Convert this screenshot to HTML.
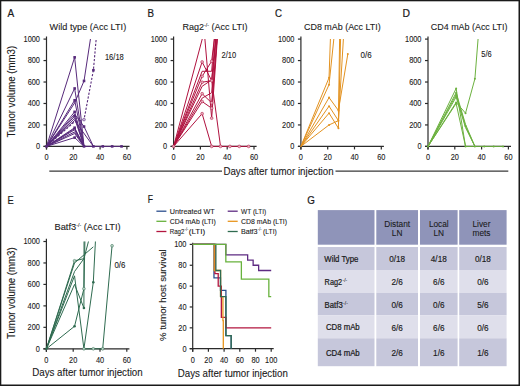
<!DOCTYPE html><html><head><meta charset="utf-8"><style>html,body{margin:0;padding:0;background:#fff;overflow:hidden}svg{display:block}text{font-family:"Liberation Sans",sans-serif;stroke:#1a1a1a;stroke-width:0.1}</style></head><body>
<svg width="520" height="386" viewBox="0 0 520 386">
<rect x="0" y="0" width="520" height="386" fill="#fff"/>
<text x="7.5" y="16.5" font-size="11.4" textLength="6.7" lengthAdjust="spacingAndGlyphs" style="stroke-width:0.22" fill="#1a1a1a">A</text>
<text x="147.6" y="16.6" font-size="11.4" textLength="6.5" lengthAdjust="spacingAndGlyphs" style="stroke-width:0.22" fill="#1a1a1a">B</text>
<text x="274.9" y="16.6" font-size="11.4" textLength="7.0" lengthAdjust="spacingAndGlyphs" style="stroke-width:0.22" fill="#1a1a1a">C</text>
<text x="402.5" y="16.6" font-size="11.4" textLength="7.5" lengthAdjust="spacingAndGlyphs" style="stroke-width:0.22" fill="#1a1a1a">D</text>
<text x="7.6" y="203.6" font-size="11.4" textLength="6.2" lengthAdjust="spacingAndGlyphs" style="stroke-width:0.22" fill="#1a1a1a">E</text>
<text x="147.8" y="203.3" font-size="11.4" textLength="5.2" lengthAdjust="spacingAndGlyphs" style="stroke-width:0.22" fill="#1a1a1a">F</text>
<text x="307.3" y="203.6" font-size="11.4" textLength="7.6" lengthAdjust="spacingAndGlyphs" style="stroke-width:0.22" fill="#1a1a1a">G</text>
<text x="49.6" y="30.4" font-size="9.8" textLength="76.6" lengthAdjust="spacingAndGlyphs" fill="#1a1a1a">Wild type (Acc LTI)</text>
<text x="182.5" y="30.4" font-size="9.8" textLength="65" lengthAdjust="spacingAndGlyphs" fill="#1a1a1a">Rag2<tspan font-size="5.6" dy="-3.8">-/-</tspan><tspan dy="3.8"> (Acc LTI)</tspan></text>
<text x="304" y="30.4" font-size="9.8" textLength="76.7" lengthAdjust="spacingAndGlyphs" fill="#1a1a1a">CD8 mAb (Acc LTI)</text>
<text x="430.8" y="30.4" font-size="9.8" textLength="76.7" lengthAdjust="spacingAndGlyphs" fill="#1a1a1a">CD4 mAb (Acc LTI)</text>
<text x="54.5" y="230.3" font-size="9.8" textLength="66.2" lengthAdjust="spacingAndGlyphs" fill="#1a1a1a">Batf3<tspan font-size="5.6" dy="-3.8">-/-</tspan><tspan dy="3.8"> (Acc LTI)</tspan></text>
<text transform="translate(14.6 91.7) rotate(-90)" x="0" y="0" font-size="10.4" text-anchor="middle" textLength="91.6" lengthAdjust="spacingAndGlyphs" fill="#1a1a1a">Tumor volume (mm3)</text>
<text transform="translate(14.6 293.2) rotate(-90)" x="0" y="0" font-size="10.4" text-anchor="middle" textLength="91.6" lengthAdjust="spacingAndGlyphs" fill="#1a1a1a">Tumor volume (mm3)</text>
<text transform="translate(165.9 295.2) rotate(-90)" x="0" y="0" font-size="9.4" text-anchor="middle" textLength="91.7" lengthAdjust="spacingAndGlyphs" fill="#1a1a1a">% tumor host survival</text>
<path d="M49.3 171.1H222M335.5 171.1H508.3" stroke="#3a3a3a" stroke-width="1.3"/>
<text x="223.4" y="174.6" font-size="10.0" textLength="110.2" lengthAdjust="spacingAndGlyphs" fill="#1a1a1a">Days after tumor injection</text>
<text x="32.2" y="376.3" font-size="10.0" textLength="110.5" lengthAdjust="spacingAndGlyphs" fill="#1a1a1a">Days after tumor injection</text>
<text x="177.8" y="376.7" font-size="10.0" textLength="110" lengthAdjust="spacingAndGlyphs" fill="#1a1a1a">Days after tumor injection</text>
<g stroke="#2b2b2b" stroke-width="1.2" fill="none">
<path d="M46.5 36.400000000000006V149.4M43.5 146.4H129.5"/>
<path d="M43.5 146.40H46.5"/>
<path d="M43.5 124.94H46.5"/>
<path d="M43.5 103.48H46.5"/>
<path d="M43.5 82.02H46.5"/>
<path d="M43.5 60.56H46.5"/>
<path d="M43.5 39.10H46.5"/>
<path d="M46.50 146.4V149.4"/>
<path d="M73.30 146.4V149.4"/>
<path d="M100.10 146.4V149.4"/>
<path d="M126.90 146.4V149.4"/>
</g>
<text x="40.0" y="149.30" font-size="8.2" text-anchor="end" textLength="4.11" lengthAdjust="spacingAndGlyphs" fill="#1a1a1a">0</text>
<text x="40.0" y="127.84" font-size="8.2" text-anchor="end" textLength="12.33" lengthAdjust="spacingAndGlyphs" fill="#1a1a1a">200</text>
<text x="40.0" y="106.38" font-size="8.2" text-anchor="end" textLength="12.33" lengthAdjust="spacingAndGlyphs" fill="#1a1a1a">400</text>
<text x="40.0" y="84.92" font-size="8.2" text-anchor="end" textLength="12.33" lengthAdjust="spacingAndGlyphs" fill="#1a1a1a">600</text>
<text x="40.0" y="63.46" font-size="8.2" text-anchor="end" textLength="12.33" lengthAdjust="spacingAndGlyphs" fill="#1a1a1a">800</text>
<text x="40.0" y="42.00" font-size="8.2" text-anchor="end" textLength="16.44" lengthAdjust="spacingAndGlyphs" fill="#1a1a1a">1000</text>
<text x="46.50" y="160.30" font-size="8.2" text-anchor="middle" textLength="4.11" lengthAdjust="spacingAndGlyphs" fill="#1a1a1a">0</text>
<text x="73.30" y="160.30" font-size="8.2" text-anchor="middle" textLength="8.22" lengthAdjust="spacingAndGlyphs" fill="#1a1a1a">20</text>
<text x="100.10" y="160.30" font-size="8.2" text-anchor="middle" textLength="8.22" lengthAdjust="spacingAndGlyphs" fill="#1a1a1a">40</text>
<text x="126.90" y="160.30" font-size="8.2" text-anchor="middle" textLength="8.22" lengthAdjust="spacingAndGlyphs" fill="#1a1a1a">60</text>
<clipPath id="ca"><rect x="44.5" y="39.10000000000001" width="90" height="112"/></clipPath>
<g clip-path="url(#ca)" fill="none" stroke="#572a7b" stroke-width="1.0" stroke-linejoin="round">
<polyline points="46.50,146.40 74.64,57.34 84.02,146.40"/>
<polyline points="46.50,146.40 74.64,88.46 84.02,146.40"/>
<polyline points="46.50,146.40 74.64,102.94 84.02,80.95 93.40,19.79"/>
<polyline points="46.50,146.40 74.64,100.26 84.02,146.40"/>
<polyline points="46.50,146.40 74.64,111.85 84.02,146.40"/>
<polyline points="46.50,146.40 74.64,114.21 84.02,126.55 93.40,146.40"/>
<polyline points="46.50,146.40 74.64,116.14 84.02,146.40"/>
<polyline points="46.50,146.40 74.64,118.29 84.02,146.40"/>
<polyline points="46.50,146.40 74.64,120.43 93.40,146.40"/>
<polyline points="46.50,146.40 74.64,127.73 84.02,146.40"/>
<polyline points="46.50,146.40 74.64,128.70 84.02,146.40"/>
<polyline points="46.50,146.40 74.64,129.77 84.02,146.40"/>
<polyline points="46.50,146.40 74.64,131.91 84.02,146.40"/>
<polyline points="46.50,146.40 74.64,133.52 84.02,146.40"/>
<polyline points="46.50,146.40 74.64,137.60 84.02,146.40"/>
<polyline points="84.02,146.40 121.54,146.40"/>
<polyline points="46.50,146.40 74.64,121.72 84.02,119.58 93.40,70.22 98.09,17.64" stroke-dasharray="2.2 1.6" stroke-width="1.1"/>
</g>
<g fill="#572a7b">
<rect x="73.34" y="56.04" width="2.6" height="2.6"/>
<rect x="73.34" y="87.16" width="2.6" height="2.6"/>
<rect x="73.34" y="98.96" width="2.6" height="2.6"/>
<rect x="73.34" y="110.55" width="2.6" height="2.6"/>
<rect x="73.34" y="114.84" width="2.6" height="2.6"/>
<rect x="73.34" y="126.43" width="2.6" height="2.6"/>
<rect x="73.34" y="136.30" width="2.6" height="2.6"/>
<rect x="82.72" y="79.65" width="2.6" height="2.6"/>
<rect x="82.72" y="125.25" width="2.6" height="2.6"/>
<rect x="45.20" y="145.10" width="2.6" height="2.6"/>
<rect x="82.72" y="145.10" width="2.6" height="2.6"/>
<rect x="92.10" y="145.10" width="2.6" height="2.6"/>
<rect x="101.48" y="145.10" width="2.6" height="2.6"/>
<rect x="110.86" y="145.10" width="2.6" height="2.6"/>
<rect x="120.24" y="145.10" width="2.6" height="2.6"/>
<rect x="92.10" y="68.92" width="2.6" height="2.6"/>
</g>
<circle cx="84.02" cy="119.58" r="1.4" fill="#c9b6da" stroke="#572a7b" stroke-width="0.5"/>
<text x="104.9" y="59.5" font-size="8.3" textLength="18.9" lengthAdjust="spacingAndGlyphs" fill="#1a1a1a">16/18</text>
<g stroke="#2b2b2b" stroke-width="1.2" fill="none">
<path d="M173.6 36.400000000000006V149.4M170.6 146.4H256.6"/>
<path d="M170.6 146.40H173.6"/>
<path d="M170.6 124.94H173.6"/>
<path d="M170.6 103.48H173.6"/>
<path d="M170.6 82.02H173.6"/>
<path d="M170.6 60.56H173.6"/>
<path d="M170.6 39.10H173.6"/>
<path d="M173.60 146.4V149.4"/>
<path d="M200.40 146.4V149.4"/>
<path d="M227.20 146.4V149.4"/>
<path d="M254.00 146.4V149.4"/>
</g>
<text x="167.1" y="149.30" font-size="8.2" text-anchor="end" textLength="4.11" lengthAdjust="spacingAndGlyphs" fill="#1a1a1a">0</text>
<text x="167.1" y="127.84" font-size="8.2" text-anchor="end" textLength="12.33" lengthAdjust="spacingAndGlyphs" fill="#1a1a1a">200</text>
<text x="167.1" y="106.38" font-size="8.2" text-anchor="end" textLength="12.33" lengthAdjust="spacingAndGlyphs" fill="#1a1a1a">400</text>
<text x="167.1" y="84.92" font-size="8.2" text-anchor="end" textLength="12.33" lengthAdjust="spacingAndGlyphs" fill="#1a1a1a">600</text>
<text x="167.1" y="63.46" font-size="8.2" text-anchor="end" textLength="12.33" lengthAdjust="spacingAndGlyphs" fill="#1a1a1a">800</text>
<text x="167.1" y="42.00" font-size="8.2" text-anchor="end" textLength="16.44" lengthAdjust="spacingAndGlyphs" fill="#1a1a1a">1000</text>
<text x="173.60" y="160.30" font-size="8.2" text-anchor="middle" textLength="4.11" lengthAdjust="spacingAndGlyphs" fill="#1a1a1a">0</text>
<text x="200.40" y="160.30" font-size="8.2" text-anchor="middle" textLength="8.22" lengthAdjust="spacingAndGlyphs" fill="#1a1a1a">20</text>
<text x="227.20" y="160.30" font-size="8.2" text-anchor="middle" textLength="8.22" lengthAdjust="spacingAndGlyphs" fill="#1a1a1a">40</text>
<text x="254.00" y="160.30" font-size="8.2" text-anchor="middle" textLength="8.22" lengthAdjust="spacingAndGlyphs" fill="#1a1a1a">60</text>
<clipPath id="cb"><rect x="171.6" y="39.10000000000001" width="90" height="112"/></clipPath>
<g clip-path="url(#cb)" fill="none" stroke="#b0123f" stroke-width="1.0" stroke-linejoin="round">
<polyline points="173.60,146.40 205.09,28.37"/>
<polyline points="202.14,6.91 211.66,118.18 218.89,17.64"/>
<polyline points="173.60,146.40 202.14,61.95 211.66,80.63 217.55,17.64"/>
<polyline points="173.60,146.40 202.14,76.33 211.66,61.20 216.88,17.64"/>
<polyline points="173.60,146.40 202.14,82.23 211.66,80.63 218.22,17.64"/>
<polyline points="173.60,146.40 202.14,93.72 211.66,102.84 218.89,17.64"/>
<polyline points="173.60,146.40 202.14,101.55 211.66,108.20 218.62,17.64"/>
<polyline points="173.60,146.40 202.14,113.67 211.66,146.40 248.64,146.40"/>
<polyline points="173.60,146.40 202.14,86.31 211.66,79.87 220.50,146.40"/>
<polyline points="173.60,146.40 202.14,98.12 211.66,92.75 217.55,17.64"/>
<polyline points="173.60,146.40 202.14,71.29 211.66,71.29 216.21,17.64"/>
</g>
<g fill="#b0123f">
</g>
<circle cx="202.14" cy="61.95" r="1.4" fill="#e7aabb" stroke="#b0123f" stroke-width="0.5"/>
<circle cx="202.14" cy="76.33" r="1.4" fill="#e7aabb" stroke="#b0123f" stroke-width="0.5"/>
<circle cx="202.14" cy="82.23" r="1.4" fill="#e7aabb" stroke="#b0123f" stroke-width="0.5"/>
<circle cx="202.14" cy="93.72" r="1.4" fill="#e7aabb" stroke="#b0123f" stroke-width="0.5"/>
<circle cx="202.14" cy="101.55" r="1.4" fill="#e7aabb" stroke="#b0123f" stroke-width="0.5"/>
<circle cx="202.14" cy="113.67" r="1.4" fill="#e7aabb" stroke="#b0123f" stroke-width="0.5"/>
<circle cx="211.66" cy="61.20" r="1.4" fill="#e7aabb" stroke="#b0123f" stroke-width="0.5"/>
<circle cx="211.66" cy="80.63" r="1.4" fill="#e7aabb" stroke="#b0123f" stroke-width="0.5"/>
<circle cx="211.66" cy="102.84" r="1.4" fill="#e7aabb" stroke="#b0123f" stroke-width="0.5"/>
<circle cx="211.66" cy="108.20" r="1.4" fill="#e7aabb" stroke="#b0123f" stroke-width="0.5"/>
<circle cx="211.66" cy="118.18" r="1.4" fill="#e7aabb" stroke="#b0123f" stroke-width="0.5"/>
<circle cx="173.60" cy="146.40" r="1.4" fill="#e7aabb" stroke="#b0123f" stroke-width="0.5"/>
<circle cx="211.66" cy="146.40" r="1.4" fill="#e7aabb" stroke="#b0123f" stroke-width="0.5"/>
<circle cx="220.50" cy="146.40" r="1.4" fill="#e7aabb" stroke="#b0123f" stroke-width="0.5"/>
<circle cx="229.88" cy="146.40" r="1.4" fill="#e7aabb" stroke="#b0123f" stroke-width="0.5"/>
<circle cx="239.26" cy="146.40" r="1.4" fill="#e7aabb" stroke="#b0123f" stroke-width="0.5"/>
<circle cx="248.64" cy="146.40" r="1.4" fill="#e7aabb" stroke="#b0123f" stroke-width="0.5"/>
<text x="221.6" y="58.4" font-size="8.3" textLength="14.6" lengthAdjust="spacingAndGlyphs" fill="#1a1a1a">2/10</text>
<g stroke="#2b2b2b" stroke-width="1.2" fill="none">
<path d="M300.9 36.400000000000006V149.4M297.9 146.4H383.9"/>
<path d="M297.9 146.40H300.9"/>
<path d="M297.9 124.94H300.9"/>
<path d="M297.9 103.48H300.9"/>
<path d="M297.9 82.02H300.9"/>
<path d="M297.9 60.56H300.9"/>
<path d="M297.9 39.10H300.9"/>
<path d="M300.90 146.4V149.4"/>
<path d="M327.70 146.4V149.4"/>
<path d="M354.50 146.4V149.4"/>
<path d="M381.30 146.4V149.4"/>
</g>
<text x="294.4" y="149.30" font-size="8.2" text-anchor="end" textLength="4.11" lengthAdjust="spacingAndGlyphs" fill="#1a1a1a">0</text>
<text x="294.4" y="127.84" font-size="8.2" text-anchor="end" textLength="12.33" lengthAdjust="spacingAndGlyphs" fill="#1a1a1a">200</text>
<text x="294.4" y="106.38" font-size="8.2" text-anchor="end" textLength="12.33" lengthAdjust="spacingAndGlyphs" fill="#1a1a1a">400</text>
<text x="294.4" y="84.92" font-size="8.2" text-anchor="end" textLength="12.33" lengthAdjust="spacingAndGlyphs" fill="#1a1a1a">600</text>
<text x="294.4" y="63.46" font-size="8.2" text-anchor="end" textLength="12.33" lengthAdjust="spacingAndGlyphs" fill="#1a1a1a">800</text>
<text x="294.4" y="42.00" font-size="8.2" text-anchor="end" textLength="16.44" lengthAdjust="spacingAndGlyphs" fill="#1a1a1a">1000</text>
<text x="300.90" y="160.30" font-size="8.2" text-anchor="middle" textLength="4.11" lengthAdjust="spacingAndGlyphs" fill="#1a1a1a">0</text>
<text x="327.70" y="160.30" font-size="8.2" text-anchor="middle" textLength="8.22" lengthAdjust="spacingAndGlyphs" fill="#1a1a1a">20</text>
<text x="354.50" y="160.30" font-size="8.2" text-anchor="middle" textLength="8.22" lengthAdjust="spacingAndGlyphs" fill="#1a1a1a">40</text>
<text x="381.30" y="160.30" font-size="8.2" text-anchor="middle" textLength="8.22" lengthAdjust="spacingAndGlyphs" fill="#1a1a1a">60</text>
<clipPath id="cc"><rect x="298.9" y="39.10000000000001" width="90" height="112"/></clipPath>
<g clip-path="url(#cc)" fill="none" stroke="#e39220" stroke-width="1.0" stroke-linejoin="round">
<polyline points="300.90,146.40 329.04,77.73 330.78,28.37"/>
<polyline points="300.90,146.40 329.04,84.70 334.94,28.37"/>
<polyline points="300.90,146.40 329.04,97.58 338.42,110.45 347.80,54.12"/>
<polyline points="300.90,146.40 329.04,106.16 338.42,120.65 339.76,28.37"/>
<polyline points="300.90,146.40 329.04,113.14 338.42,128.16 340.83,28.37"/>
<polyline points="300.90,146.40 329.04,124.94 338.42,120.65 344.05,28.37"/>
</g>
<g fill="#e39220">
<circle cx="329.04" cy="77.73" r="1.0"/>
<circle cx="329.04" cy="84.70" r="1.0"/>
<circle cx="329.04" cy="97.58" r="1.0"/>
<circle cx="329.04" cy="106.16" r="1.0"/>
<circle cx="329.04" cy="113.14" r="1.0"/>
<circle cx="329.04" cy="124.94" r="1.0"/>
<circle cx="338.42" cy="110.45" r="1.0"/>
<circle cx="338.42" cy="120.65" r="1.0"/>
<circle cx="338.42" cy="128.16" r="1.0"/>
<circle cx="347.80" cy="54.12" r="1.0"/>
</g>
<text x="360.5" y="58.4" font-size="8.3" textLength="11.1" lengthAdjust="spacingAndGlyphs" fill="#1a1a1a">0/6</text>
<g stroke="#2b2b2b" stroke-width="1.2" fill="none">
<path d="M428 36.400000000000006V149.4M425 146.4H511"/>
<path d="M425 146.40H428"/>
<path d="M425 124.94H428"/>
<path d="M425 103.48H428"/>
<path d="M425 82.02H428"/>
<path d="M425 60.56H428"/>
<path d="M425 39.10H428"/>
<path d="M428.00 146.4V149.4"/>
<path d="M454.80 146.4V149.4"/>
<path d="M481.60 146.4V149.4"/>
<path d="M508.40 146.4V149.4"/>
</g>
<text x="421.5" y="149.30" font-size="8.2" text-anchor="end" textLength="4.11" lengthAdjust="spacingAndGlyphs" fill="#1a1a1a">0</text>
<text x="421.5" y="127.84" font-size="8.2" text-anchor="end" textLength="12.33" lengthAdjust="spacingAndGlyphs" fill="#1a1a1a">200</text>
<text x="421.5" y="106.38" font-size="8.2" text-anchor="end" textLength="12.33" lengthAdjust="spacingAndGlyphs" fill="#1a1a1a">400</text>
<text x="421.5" y="84.92" font-size="8.2" text-anchor="end" textLength="12.33" lengthAdjust="spacingAndGlyphs" fill="#1a1a1a">600</text>
<text x="421.5" y="63.46" font-size="8.2" text-anchor="end" textLength="12.33" lengthAdjust="spacingAndGlyphs" fill="#1a1a1a">800</text>
<text x="421.5" y="42.00" font-size="8.2" text-anchor="end" textLength="16.44" lengthAdjust="spacingAndGlyphs" fill="#1a1a1a">1000</text>
<text x="428.00" y="160.30" font-size="8.2" text-anchor="middle" textLength="4.11" lengthAdjust="spacingAndGlyphs" fill="#1a1a1a">0</text>
<text x="454.80" y="160.30" font-size="8.2" text-anchor="middle" textLength="8.22" lengthAdjust="spacingAndGlyphs" fill="#1a1a1a">20</text>
<text x="481.60" y="160.30" font-size="8.2" text-anchor="middle" textLength="8.22" lengthAdjust="spacingAndGlyphs" fill="#1a1a1a">40</text>
<text x="508.40" y="160.30" font-size="8.2" text-anchor="middle" textLength="8.22" lengthAdjust="spacingAndGlyphs" fill="#1a1a1a">60</text>
<clipPath id="cd"><rect x="426" y="39.10000000000001" width="90" height="112"/></clipPath>
<g clip-path="url(#cd)" fill="none" stroke="#6cb13f" stroke-width="1.0" stroke-linejoin="round">
<polyline points="428.00,146.40 456.14,88.46 465.52,146.40"/>
<polyline points="428.00,146.40 456.14,92.75 465.52,124.40 474.90,146.40"/>
<polyline points="428.00,146.40 456.14,94.90 465.52,126.01 474.90,146.40"/>
<polyline points="428.00,146.40 456.14,97.04 465.52,127.62 474.90,146.40"/>
<polyline points="428.00,146.40 456.14,102.41 465.52,113.14 474.90,78.80 478.92,28.37"/>
<polyline points="428.00,146.40 456.14,103.48 465.52,146.40"/>
<polyline points="465.52,146.40 503.04,146.40"/>
</g>
<g fill="#6cb13f">
<circle cx="456.14" cy="88.46" r="1.0"/>
<circle cx="456.14" cy="92.75" r="1.0"/>
<circle cx="456.14" cy="94.90" r="1.0"/>
<circle cx="456.14" cy="97.04" r="1.0"/>
<circle cx="456.14" cy="102.41" r="1.0"/>
<circle cx="456.14" cy="103.48" r="1.0"/>
<circle cx="465.52" cy="113.14" r="1.0"/>
<circle cx="465.52" cy="126.01" r="1.0"/>
<circle cx="474.90" cy="78.80" r="1.0"/>
<circle cx="428.00" cy="146.40" r="1.0"/>
<circle cx="465.52" cy="146.40" r="1.0"/>
<circle cx="474.90" cy="146.40" r="1.0"/>
<circle cx="484.28" cy="146.40" r="1.0"/>
<circle cx="493.66" cy="146.40" r="1.0"/>
<circle cx="503.04" cy="146.40" r="1.0"/>
</g>
<text x="481.3" y="57.4" font-size="8.3" textLength="10.4" lengthAdjust="spacingAndGlyphs" fill="#1a1a1a">5/6</text>
<g stroke="#2b2b2b" stroke-width="1.2" fill="none">
<path d="M46.4 238.8V351.8M43.4 348.8H129.4"/>
<path d="M43.4 348.80H46.4"/>
<path d="M43.4 327.34H46.4"/>
<path d="M43.4 305.88H46.4"/>
<path d="M43.4 284.42H46.4"/>
<path d="M43.4 262.96H46.4"/>
<path d="M43.4 241.50H46.4"/>
<path d="M46.40 348.8V351.8"/>
<path d="M73.20 348.8V351.8"/>
<path d="M100.00 348.8V351.8"/>
<path d="M126.80 348.8V351.8"/>
</g>
<text x="39.9" y="351.70" font-size="8.2" text-anchor="end" textLength="4.11" lengthAdjust="spacingAndGlyphs" fill="#1a1a1a">0</text>
<text x="39.9" y="330.24" font-size="8.2" text-anchor="end" textLength="12.33" lengthAdjust="spacingAndGlyphs" fill="#1a1a1a">200</text>
<text x="39.9" y="308.78" font-size="8.2" text-anchor="end" textLength="12.33" lengthAdjust="spacingAndGlyphs" fill="#1a1a1a">400</text>
<text x="39.9" y="287.32" font-size="8.2" text-anchor="end" textLength="12.33" lengthAdjust="spacingAndGlyphs" fill="#1a1a1a">600</text>
<text x="39.9" y="265.86" font-size="8.2" text-anchor="end" textLength="12.33" lengthAdjust="spacingAndGlyphs" fill="#1a1a1a">800</text>
<text x="39.9" y="244.40" font-size="8.2" text-anchor="end" textLength="16.44" lengthAdjust="spacingAndGlyphs" fill="#1a1a1a">1000</text>
<text x="46.40" y="362.70" font-size="8.2" text-anchor="middle" textLength="4.11" lengthAdjust="spacingAndGlyphs" fill="#1a1a1a">0</text>
<text x="73.20" y="362.70" font-size="8.2" text-anchor="middle" textLength="8.22" lengthAdjust="spacingAndGlyphs" fill="#1a1a1a">20</text>
<text x="100.00" y="362.70" font-size="8.2" text-anchor="middle" textLength="8.22" lengthAdjust="spacingAndGlyphs" fill="#1a1a1a">40</text>
<text x="126.80" y="362.70" font-size="8.2" text-anchor="middle" textLength="8.22" lengthAdjust="spacingAndGlyphs" fill="#1a1a1a">60</text>
<clipPath id="ce"><rect x="44.4" y="241.5" width="90" height="112"/></clipPath>
<g clip-path="url(#ce)" fill="none" stroke="#2f6b50" stroke-width="1.0" stroke-linejoin="round">
<polyline points="46.40,348.80 74.54,260.81 83.92,258.67 91.29,230.77"/>
<polyline points="46.40,348.80 74.54,262.96 93.30,246.87"/>
<polyline points="46.40,348.80 74.54,271.54 83.92,258.67"/>
<polyline points="46.40,348.80 74.54,275.84 83.92,348.80 93.30,282.27 95.98,230.77"/>
<polyline points="46.40,348.80 74.54,284.42 83.92,308.03 84.05,230.77"/>
<polyline points="46.40,348.80 74.54,326.27 83.92,288.71 85.13,230.77"/>
<polyline points="83.92,348.80 102.68,348.80 112.06,245.79"/>
</g>
<g fill="#2f6b50">
<circle cx="74.54" cy="326.27" r="1.3"/>
<circle cx="83.92" cy="308.03" r="1.3"/>
<circle cx="93.30" cy="282.27" r="1.3"/>
<circle cx="46.40" cy="348.80" r="1.3"/>
</g>
<circle cx="74.54" cy="260.81" r="1.4" fill="#b9d2c4" stroke="#2f6b50" stroke-width="0.5"/>
<circle cx="83.92" cy="288.71" r="1.4" fill="#b9d2c4" stroke="#2f6b50" stroke-width="0.5"/>
<circle cx="112.06" cy="245.79" r="1.4" fill="#b9d2c4" stroke="#2f6b50" stroke-width="0.5"/>
<circle cx="83.92" cy="348.80" r="1.4" fill="#b9d2c4" stroke="#2f6b50" stroke-width="0.5"/>
<circle cx="93.30" cy="348.80" r="1.4" fill="#b9d2c4" stroke="#2f6b50" stroke-width="0.5"/>
<circle cx="102.68" cy="348.80" r="1.4" fill="#b9d2c4" stroke="#2f6b50" stroke-width="0.5"/>
<text x="114.5" y="268" font-size="8.3" textLength="10.9" lengthAdjust="spacingAndGlyphs" fill="#1a1a1a">0/6</text>
<g stroke="#2b2b2b" stroke-width="1.2" fill="none">
<path d="M192.7 242.7V351.7M189.7 348.7H273.7"/>
<path d="M189.7 348.70H192.7"/>
<path d="M189.7 327.84H192.7"/>
<path d="M189.7 306.98H192.7"/>
<path d="M189.7 286.12H192.7"/>
<path d="M189.7 265.26H192.7"/>
<path d="M189.7 244.40H192.7"/>
<path d="M192.70 348.7V351.7"/>
<path d="M208.40 348.7V351.7"/>
<path d="M224.10 348.7V351.7"/>
<path d="M239.80 348.7V351.7"/>
<path d="M255.50 348.7V351.7"/>
<path d="M271.20 348.7V351.7"/>
</g>
<text x="186.5" y="351.60" font-size="8.2" text-anchor="end" textLength="4.11" lengthAdjust="spacingAndGlyphs" fill="#1a1a1a">0</text>
<text x="186.5" y="330.74" font-size="8.2" text-anchor="end" textLength="8.22" lengthAdjust="spacingAndGlyphs" fill="#1a1a1a">20</text>
<text x="186.5" y="309.88" font-size="8.2" text-anchor="end" textLength="8.22" lengthAdjust="spacingAndGlyphs" fill="#1a1a1a">40</text>
<text x="186.5" y="289.02" font-size="8.2" text-anchor="end" textLength="8.22" lengthAdjust="spacingAndGlyphs" fill="#1a1a1a">60</text>
<text x="186.5" y="268.16" font-size="8.2" text-anchor="end" textLength="8.22" lengthAdjust="spacingAndGlyphs" fill="#1a1a1a">80</text>
<text x="186.5" y="247.30" font-size="8.2" text-anchor="end" textLength="12.33" lengthAdjust="spacingAndGlyphs" fill="#1a1a1a">100</text>
<text x="192.70" y="362.80" font-size="8.2" text-anchor="middle" textLength="4.11" lengthAdjust="spacingAndGlyphs" fill="#1a1a1a">0</text>
<text x="208.40" y="362.80" font-size="8.2" text-anchor="middle" textLength="8.22" lengthAdjust="spacingAndGlyphs" fill="#1a1a1a">20</text>
<text x="224.10" y="362.80" font-size="8.2" text-anchor="middle" textLength="8.22" lengthAdjust="spacingAndGlyphs" fill="#1a1a1a">40</text>
<text x="239.80" y="362.80" font-size="8.2" text-anchor="middle" textLength="8.22" lengthAdjust="spacingAndGlyphs" fill="#1a1a1a">60</text>
<text x="255.50" y="362.80" font-size="8.2" text-anchor="middle" textLength="8.22" lengthAdjust="spacingAndGlyphs" fill="#1a1a1a">80</text>
<text x="271.20" y="362.80" font-size="8.2" text-anchor="middle" textLength="12.33" lengthAdjust="spacingAndGlyphs" fill="#1a1a1a">100</text>
<g fill="none" stroke-width="1.3">
<path d="M192.70 244.40H213.97V277.78H220.49V290.29H225.91V335.66H231.16V348.70" stroke="#2b4f8e"/>
<path d="M192.70 244.40H214.92V273.60H218.21V286.12H221.35V317.41H225.91V327.84H271.20V327.84" stroke="#b3163f"/>
<path d="M192.70 244.40H214.21V270.48H220.57V296.55H222.92V320.54H223.31V348.70" stroke="#e8951e"/>
<path d="M192.70 244.40H215.86V270.48H220.57V296.55H225.91V335.66H231.16V348.70" stroke="#2f6b50"/>
<path d="M192.70 244.40H225.83V254.83H247.65V260.05H253.14V265.26H258.64V270.48H271.20V270.48" stroke="#5e2b82"/>
<path d="M192.70 244.40H225.83V261.82H241.37V279.13H268.84V296.55H271.20V296.55" stroke="#68b23d"/>
</g>
<path d="M156.4 211.2H166.4" stroke="#2b4f8e" stroke-width="1.3"/>
<text x="169.8" y="213.8" font-size="7.6" textLength="44.8" lengthAdjust="spacingAndGlyphs" fill="#1a1a1a">Untreated WT</text>
<path d="M156.4 221.3H166.4" stroke="#68b23d" stroke-width="1.3"/>
<text x="169.8" y="223.9" font-size="7.6" textLength="46" lengthAdjust="spacingAndGlyphs" fill="#1a1a1a">CD4 mAb (LTI)</text>
<path d="M156.4 231.5H166.4" stroke="#b3163f" stroke-width="1.3"/>
<path d="M227.7 211.2H237.7" stroke="#5e2b82" stroke-width="1.3"/>
<text x="241.1" y="213.8" font-size="7.6" textLength="25.1" lengthAdjust="spacingAndGlyphs" fill="#1a1a1a">WT (LTI)</text>
<path d="M227.7 221.3H237.7" stroke="#e8951e" stroke-width="1.3"/>
<text x="241.1" y="223.9" font-size="7.6" textLength="46.0" lengthAdjust="spacingAndGlyphs" fill="#1a1a1a">CD8 mAb (LTI)</text>
<path d="M227.7 231.5H237.7" stroke="#2f6b50" stroke-width="1.3"/>
<text x="169.8" y="234.1" font-size="7.6" textLength="14.6" lengthAdjust="spacingAndGlyphs" fill="#1a1a1a">Rag2</text>
<text x="184.8" y="231.2" font-size="4.6" textLength="3.6" lengthAdjust="spacingAndGlyphs" style="stroke-width:0.05" fill="#1a1a1a">-/-</text>
<text x="188.7" y="234.1" font-size="7.6" textLength="16.5" lengthAdjust="spacingAndGlyphs" fill="#1a1a1a">(LTI)</text>
<text x="240.9" y="234.1" font-size="7.6" textLength="16.7" lengthAdjust="spacingAndGlyphs" fill="#1a1a1a">Batf3</text>
<text x="258.0" y="231.2" font-size="4.6" textLength="3.6" lengthAdjust="spacingAndGlyphs" style="stroke-width:0.05" fill="#1a1a1a">-/-</text>
<text x="263.1" y="234.1" font-size="7.6" textLength="13.7" lengthAdjust="spacingAndGlyphs" fill="#1a1a1a">(LTI)</text>
<rect x="317.8" y="210.1" width="56.70" height="34.6" fill="#8f94b9"/>
<rect x="376.3" y="210.1" width="41.70" height="34.6" fill="#8f94b9"/>
<rect x="420" y="210.1" width="37.60" height="34.6" fill="#8f94b9"/>
<rect x="459.2" y="210.1" width="47.40" height="34.6" fill="#8f94b9"/>
<rect x="317.8" y="247" width="56.70" height="23.00" fill="#c6c7db"/>
<rect x="376.3" y="247" width="41.70" height="23.00" fill="#c6c7db"/>
<rect x="420" y="247" width="37.60" height="23.00" fill="#c6c7db"/>
<rect x="459.2" y="247" width="47.40" height="23.00" fill="#c6c7db"/>
<rect x="317.8" y="270" width="56.70" height="22.80" fill="#dfdfeb"/>
<rect x="376.3" y="270" width="41.70" height="22.80" fill="#dfdfeb"/>
<rect x="420" y="270" width="37.60" height="22.80" fill="#dfdfeb"/>
<rect x="459.2" y="270" width="47.40" height="22.80" fill="#dfdfeb"/>
<rect x="317.8" y="292.8" width="56.70" height="22.40" fill="#c6c7db"/>
<rect x="376.3" y="292.8" width="41.70" height="22.40" fill="#c6c7db"/>
<rect x="420" y="292.8" width="37.60" height="22.40" fill="#c6c7db"/>
<rect x="459.2" y="292.8" width="47.40" height="22.40" fill="#c6c7db"/>
<rect x="317.8" y="315.2" width="56.70" height="23.10" fill="#dfdfeb"/>
<rect x="376.3" y="315.2" width="41.70" height="23.10" fill="#dfdfeb"/>
<rect x="420" y="315.2" width="37.60" height="23.10" fill="#dfdfeb"/>
<rect x="459.2" y="315.2" width="47.40" height="23.10" fill="#dfdfeb"/>
<rect x="317.8" y="338.3" width="56.70" height="27.90" fill="#c6c7db"/>
<rect x="376.3" y="338.3" width="41.70" height="27.90" fill="#c6c7db"/>
<rect x="420" y="338.3" width="37.60" height="27.90" fill="#c6c7db"/>
<rect x="459.2" y="338.3" width="47.40" height="27.90" fill="#c6c7db"/>
<text x="397.15" y="226.5" font-size="8.3" text-anchor="middle" style="stroke-width:0.08" fill="#1a1a1a">Distant</text>
<text x="397.15" y="236" font-size="8.3" text-anchor="middle" style="stroke-width:0.08" fill="#1a1a1a">LN</text>
<text x="438.80" y="226.5" font-size="8.3" text-anchor="middle" style="stroke-width:0.08" fill="#1a1a1a">Local</text>
<text x="438.80" y="236" font-size="8.3" text-anchor="middle" style="stroke-width:0.08" fill="#1a1a1a">LN</text>
<text x="481.50" y="226.5" font-size="8.3" text-anchor="middle" style="stroke-width:0.08" fill="#1a1a1a">Liver</text>
<text x="481.50" y="236" font-size="8.3" text-anchor="middle" style="stroke-width:0.08" fill="#1a1a1a">mets</text>
<text x="324.3" y="262.10" font-size="8.4" textLength="34.1" lengthAdjust="spacingAndGlyphs" style="stroke-width:0.22" fill="#1a1a1a">Wild Type</text>
<text x="397.15" y="262.30" font-size="8.9" text-anchor="middle" textLength="15.96" lengthAdjust="spacingAndGlyphs" style="stroke-width:0.15" fill="#1a1a1a">0/18</text>
<text x="438.80" y="262.30" font-size="8.9" text-anchor="middle" textLength="15.96" lengthAdjust="spacingAndGlyphs" style="stroke-width:0.15" fill="#1a1a1a">4/18</text>
<text x="482.90" y="262.30" font-size="8.9" text-anchor="middle" textLength="15.96" lengthAdjust="spacingAndGlyphs" style="stroke-width:0.15" fill="#1a1a1a">0/18</text>
<text x="324.6" y="285.00" font-size="8.4" textLength="17.5" lengthAdjust="spacingAndGlyphs" style="stroke-width:0.22" fill="#1a1a1a">Rag2</text>
<text x="342.5" y="282.00" font-size="5.0" style="stroke-width:0.06" fill="#1a1a1a">-/-</text>
<text x="397.15" y="285.20" font-size="8.9" text-anchor="middle" textLength="11.40" lengthAdjust="spacingAndGlyphs" style="stroke-width:0.15" fill="#1a1a1a">2/6</text>
<text x="438.80" y="285.20" font-size="8.9" text-anchor="middle" textLength="11.40" lengthAdjust="spacingAndGlyphs" style="stroke-width:0.15" fill="#1a1a1a">6/6</text>
<text x="482.90" y="285.20" font-size="8.9" text-anchor="middle" textLength="11.40" lengthAdjust="spacingAndGlyphs" style="stroke-width:0.15" fill="#1a1a1a">0/6</text>
<text x="324.6" y="307.60" font-size="8.4" textLength="18.1" lengthAdjust="spacingAndGlyphs" style="stroke-width:0.22" fill="#1a1a1a">Batf3</text>
<text x="343.1" y="304.60" font-size="5.0" style="stroke-width:0.06" fill="#1a1a1a">-/-</text>
<text x="397.15" y="307.80" font-size="8.9" text-anchor="middle" textLength="11.40" lengthAdjust="spacingAndGlyphs" style="stroke-width:0.15" fill="#1a1a1a">0/6</text>
<text x="438.80" y="307.80" font-size="8.9" text-anchor="middle" textLength="11.40" lengthAdjust="spacingAndGlyphs" style="stroke-width:0.15" fill="#1a1a1a">0/6</text>
<text x="482.90" y="307.80" font-size="8.9" text-anchor="middle" textLength="11.40" lengthAdjust="spacingAndGlyphs" style="stroke-width:0.15" fill="#1a1a1a">5/6</text>
<text x="325.9" y="330.35" font-size="8.4" textLength="33.8" lengthAdjust="spacingAndGlyphs" style="stroke-width:0.22" fill="#1a1a1a">CD8 mAb</text>
<text x="397.15" y="330.55" font-size="8.9" text-anchor="middle" textLength="11.40" lengthAdjust="spacingAndGlyphs" style="stroke-width:0.15" fill="#1a1a1a">6/6</text>
<text x="438.80" y="330.55" font-size="8.9" text-anchor="middle" textLength="11.40" lengthAdjust="spacingAndGlyphs" style="stroke-width:0.15" fill="#1a1a1a">6/6</text>
<text x="482.90" y="330.55" font-size="8.9" text-anchor="middle" textLength="11.40" lengthAdjust="spacingAndGlyphs" style="stroke-width:0.15" fill="#1a1a1a">0/6</text>
<text x="325.9" y="355.85" font-size="8.4" textLength="33.8" lengthAdjust="spacingAndGlyphs" style="stroke-width:0.22" fill="#1a1a1a">CD4 mAb</text>
<text x="397.15" y="356.05" font-size="8.9" text-anchor="middle" textLength="11.40" lengthAdjust="spacingAndGlyphs" style="stroke-width:0.15" fill="#1a1a1a">2/6</text>
<text x="438.80" y="356.05" font-size="8.9" text-anchor="middle" textLength="11.40" lengthAdjust="spacingAndGlyphs" style="stroke-width:0.15" fill="#1a1a1a">1/6</text>
<text x="482.90" y="356.05" font-size="8.9" text-anchor="middle" textLength="11.40" lengthAdjust="spacingAndGlyphs" style="stroke-width:0.15" fill="#1a1a1a">1/6</text>
<g fill="#1a1a1a"><rect x="0" y="0" width="520" height="1.3"/><rect x="0" y="0" width="1.3" height="386"/><rect x="518.5" y="0" width="1.5" height="386"/><rect x="0" y="384.5" width="520" height="1.5"/></g>
</svg></body></html>
